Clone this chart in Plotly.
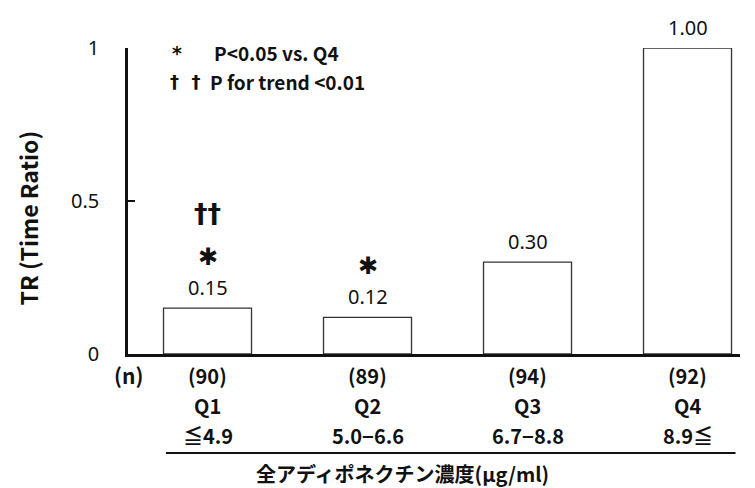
import plotly.graph_objects as go

categories = ["Q1", "Q2", "Q3", "Q4"]
tr_values = [0.15, 0.12, 0.30, 1.00]
value_labels = ["0.15", "0.12", "0.30", "1.00"]
n_labels = ["(90)", "(89)", "(94)", "(92)"]
range_labels = ["≦4.9", "5.0−6.6", "6.7−8.8", "8.9≦"]
star_marks = ["✱", "✱", "", ""]
dagger_marks = ["††", "", "", ""]
y_ticks = [0, 0.5, 1]
y_tick_text = ["0", "0.5", "1"]

JP = "Noto Sans CJK JP"
NUM = "Noto Sans"
SYM = "DejaVu Sans"

x_idx = list(range(len(categories)))

fig = go.Figure()
fig.add_trace(go.Bar(
    x=x_idx, y=tr_values, width=0.55,
    marker=dict(color="white", line=dict(color="#333333", width=1.3)),
    showlegend=False, hoverinfo="skip",
))

ann = []
for i, v in enumerate(tr_values):
    ann.append(dict(x=i, y=v, xref="x", yref="y", text=value_labels[i], showarrow=False,
                    yanchor="middle", yshift=21, font=dict(family=NUM, size=20, color="#111")))
    if star_marks[i]:
        ann.append(dict(x=i, y=v, xref="x", yref="y", text=star_marks[i], showarrow=False,
                        yanchor="middle", yshift=51, font=dict(family=SYM, size=24, color="#111")))
    if dagger_marks[i]:
        ann.append(dict(x=i, y=v, xref="x", yref="y", text="<b>" + dagger_marks[i] + "</b>", showarrow=False,
                        yanchor="middle", yshift=95, font=dict(family=SYM, size=27, color="#111")))
    ann.append(dict(x=i, y=0, xref="x", yref="paper", text="<b>" + n_labels[i] + "</b>", showarrow=False,
                    yanchor="middle", yshift=-21, font=dict(family=JP, size=20, color="#111")))
    ann.append(dict(x=i, y=0, xref="x", yref="paper", text="<b>" + categories[i] + "</b>", showarrow=False,
                    yanchor="middle", yshift=-51, font=dict(family=JP, size=20, color="#111")))
    ann.append(dict(x=i, y=0, xref="x", yref="paper", text="<b>" + range_labels[i] + "</b>", showarrow=False,
                    yanchor="middle", yshift=-81, font=dict(family=JP, size=20, color="#111")))

ann.append(dict(x=0, y=0, xref="paper", yref="paper", text="<b>(n)</b>", showarrow=False,
                xanchor="center", yanchor="middle", yshift=-21,
                font=dict(family=JP, size=21, color="#111")))
ann.append(dict(x=0.449, y=0, xref="paper", yref="paper", text="<b>全アディポネクチン濃度(μg/ml)</b>",
                showarrow=False, xanchor="center", yanchor="middle", yshift=-119,
                font=dict(family=JP, size=20, color="#111")))
ann.append(dict(x=-0.163, y=0.444, xref="paper", yref="paper", text="<b>TR (Time Ratio)</b>",
                showarrow=False, textangle=-90, xanchor="center", yanchor="middle",
                font=dict(family=JP, size=23, color="#111")))
ann.append(dict(x=0.069, y=0.984, xref="paper", yref="paper", text="<b>*</b>", showarrow=False,
                xanchor="left", yanchor="middle", font=dict(family=SYM, size=19, color="#111")))
ann.append(dict(x=0.137, y=0.984, xref="paper", yref="paper", text="<b>P<0.05 vs. Q4</b>", showarrow=False,
                xanchor="left", yanchor="middle", font=dict(family=JP, size=19, color="#111")))
ann.append(dict(x=0.066, y=0.889, xref="paper", yref="paper", text="<b>†  †</b>", showarrow=False,
                xanchor="left", yanchor="middle", font=dict(family=SYM, size=18, color="#111")))
ann.append(dict(x=0.131, y=0.889, xref="paper", yref="paper", text="<b>P for trend <0.01</b>", showarrow=False,
                xanchor="left", yanchor="middle", font=dict(family=JP, size=19, color="#111")))

fig.update_layout(
    width=755, height=488,
    margin=dict(l=128, r=15, t=48, b=134),
    paper_bgcolor="white", plot_bgcolor="white",
    annotations=ann,
    shapes=[dict(type="line", xref="x", yref="paper", x0=-0.26, x1=3.30, y0=-0.3235, y1=-0.3235,
                 line=dict(color="#111", width=2))],
    xaxis=dict(range=[-0.497, 3.328], showticklabels=False, ticks="", showgrid=False, zeroline=False,
               showline=True, linecolor="#111", linewidth=3),
    yaxis=dict(range=[0, 1], tickvals=y_ticks, ticktext=y_tick_text, ticks="inside", ticklen=7,
               tickwidth=2, tickcolor="#111", showgrid=False, zeroline=False, showline=True,
               linecolor="#111", linewidth=2.5, ticklabelstandoff=22,
               tickfont=dict(family=NUM, size=20, color="#111")),
)

fig.write_html("out.html", config={"displayModeBar": False},
               post_script="document.body.style.margin='0';document.body.style.overflow='hidden';")
